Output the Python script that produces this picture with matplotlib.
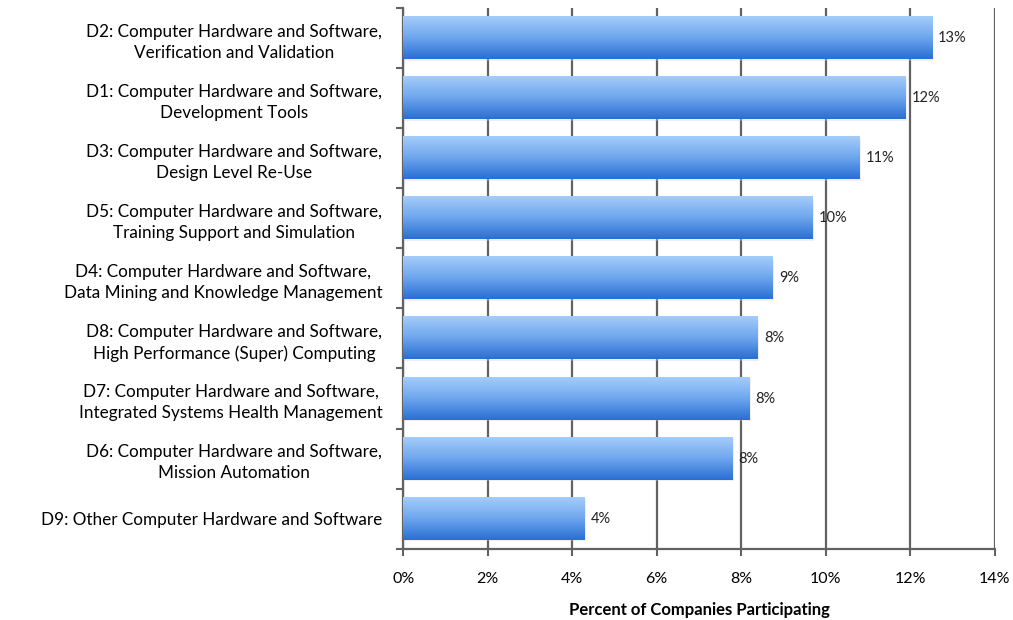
import numpy as np
import matplotlib
matplotlib.use("Agg")
import matplotlib.pyplot as plt
from matplotlib.colors import LinearSegmentedColormap

# Categories listed top to bottom
categories = [
    "D2: Computer Hardware and Software,\nVerification and Validation",
    "D1: Computer Hardware and Software,\nDevelopment Tools",
    "D3: Computer Hardware and Software,\nDesign Level Re-Use",
    "D5: Computer Hardware and Software,\nTraining Support and Simulation",
    "D4: Computer Hardware and Software,\nData Mining and Knowledge Management",
    "D8: Computer Hardware and Software,\nHigh Performance (Super) Computing",
    "D7: Computer Hardware and Software,\nIntegrated Systems Health Management",
    "D6: Computer Hardware and Software,\nMission Automation",
    "D9: Other Computer Hardware and Software",
]
percent = [12.52, 11.9, 10.8, 9.7, 8.75, 8.4, 8.2, 7.8, 4.3]
x_ticks = [0, 2, 4, 6, 8, 10, 12, 14]

plt.rcParams["font.family"] = ["Lato", "DejaVu Sans"]

fig = plt.figure(figsize=(10.13, 6.2), dpi=100)
ax = fig.add_axes([0.398, 0.115, 0.584, 0.872])

n = len(categories)
pos = np.arange(n)
bar_h = 0.7
grid_col = "#626262"

# gradient fill: light blue on top, deeper blue at the bottom
cmap = LinearSegmentedColormap.from_list("barblue", ["#a4ccfa", "#6ea6ee", "#2a6fd4"])
grad = np.linspace(0, 1, 64).reshape(-1, 1)

for y, v in zip(pos, percent):
    top, bot = y - bar_h / 2, y + bar_h / 2
    # faint drop shadow
    ax.barh(y + 0.025, v + 0.03, height=bar_h, color="#d4d4d4", alpha=0.35,
            zorder=2, linewidth=0)
    ax.imshow(grad, cmap=cmap, aspect="auto", extent=(0, v, bot, top),
              zorder=3, interpolation="bicubic")
    ax.text(v + 0.14, y, f"{int(v + 0.5)}%", va="center", ha="left",
            fontsize=10.5, color="#222222", zorder=4)

ax.set_xlim(0, 14)
ax.set_ylim(n - 0.5, -0.5)

ax.set_xticks(x_ticks)
ax.set_xticklabels([f"{t}%" for t in x_ticks], fontsize=11.5)
ax.xaxis.grid(True, color=grid_col, linewidth=1.6)
ax.set_axisbelow(True)

ax.set_yticks(pos)
ax.set_yticklabels(categories, fontsize=12.3, linespacing=1.4)
for lbl in ax.get_yticklabels():
    lbl.set_multialignment("center")
ax.tick_params(axis="y", which="major", length=0, pad=15)
ax.set_yticks(np.arange(n + 1) - 0.5, minor=True)
ax.tick_params(axis="y", which="minor", length=5, width=1.5, color=grid_col)
ax.tick_params(axis="x", length=5, width=1.5, color=grid_col, pad=12)

for side in ["top", "right"]:
    ax.spines[side].set_visible(False)
for side in ["left", "bottom"]:
    ax.spines[side].set_color(grid_col)
    ax.spines[side].set_linewidth(1.6)

ax.set_xlabel("Percent of Companies Participating", fontsize=12,
              fontweight="bold", labelpad=11)

fig.savefig("out.png", dpi=100)
